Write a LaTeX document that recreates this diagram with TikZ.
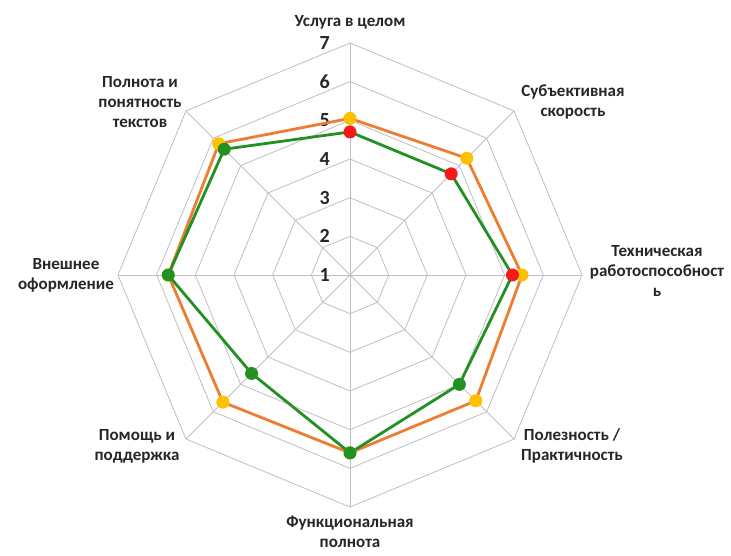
\documentclass[tikz,border=0pt]{standalone}
\usepackage{fontspec}
\setmainfont{Carlito}
\definecolor{orangeC}{RGB}{237,125,49}
\definecolor{yellowC}{RGB}{255,192,0}
\definecolor{greenC}{RGB}{34,145,34}
\definecolor{redC}{RGB}{245,25,25}
\definecolor{gridC}{RGB}{190,190,196}
\begin{document}
\begin{tikzpicture}[x=1pt,y=1pt,
  gridl/.style={draw=gridC, line width=0.8pt},
  lab/.style={font=\bfseries\fontsize{17}{20}\selectfont, align=center, text=black!85, inner sep=0pt},
  ticklab/.style={font=\bfseries\fontsize{20}{20}\selectfont, anchor=east, inner sep=0pt, text=black!85},
  serA/.style={draw=orangeC, line width=2.8pt, line join=round},
  serB/.style={draw=greenC, line width=2.8pt, line join=round},
  mk/.style={circle, inner sep=0pt, minimum size=13pt}
]
\useasboundingbox (0,0) rectangle (731,555);
\begin{scope}[shift={(350,280)}]
  \def\st{38.67}
  % grid
  \foreach \k in {1,...,6}{
    \draw[gridl] (90:{\k*\st}) \foreach \i in {1,...,7}{ -- ({90-45*\i}:{\k*\st}) } -- cycle;
  }
  \foreach \i in {0,...,7}{
    \draw[gridl] (0,0) -- ({90-45*\i}:{6*\st});
  }
  % tick labels
  \foreach \k in {1,...,7}{
    \node[ticklab] (t\k) at (-20,{(\k-1)*\st}) {\k};
  }
  % axis labels
  \node[lab] (l0) at (0,253) {Услуга в целом};
  \node[lab] (l1) at (223,173) {Субъективная\\скорость};
  \node[lab] (l2) at (307,4) {Техническая\\работоспособност\\ь};
  \node[lab] (l3) at (222,-171) {Полезность /\\Практичность};
  \node[lab] (l4) at (0,-257) {Функциональная\\полнота};
  \node[lab] (l5) at (-213,-171) {Помощь и\\поддержка};
  \node[lab] (l6) at (-284,0) {Внешнее\\оформление};
  \node[lab] (l7) at (-210,173) {Полнота и\\понятность\\текстов};
  % series A (orange, yellow markers)
  \foreach \v [count=\i from 0] in {5.05,5.27,5.45,5.6,5.6,5.65,5.7,5.8}{
    \coordinate (a\i) at ({90-45*\i}:{(\v-1)*\st});
  }
  % series B (green)
  \foreach \v [count=\i from 0] in {4.7,4.7,5.2,5.0,5.6,4.6,5.7,5.6}{
    \coordinate (b\i) at ({90-45*\i}:{(\v-1)*\st});
  }
  \draw[serA] (a0) -- (a1) -- (a2) -- (a3) -- (a4) -- (a5) -- (a6) -- (a7) -- cycle;
  \draw[serB] (b0) -- (b1) -- (b2) -- (b3) -- (b4) -- (b5) -- (b6) -- (b7) -- cycle;
  \foreach \i in {0,...,7}{
    \node[mk, fill=yellowC] (ma\i) at (a\i) {};
  }
  \foreach \i/\c in {0/redC,1/redC,2/redC,3/greenC,4/greenC,5/greenC,6/greenC,7/greenC}{
    \node[mk, fill=\c] (mb\i) at (b\i) {};
  }
\end{scope}
\end{tikzpicture}
\end{document}
